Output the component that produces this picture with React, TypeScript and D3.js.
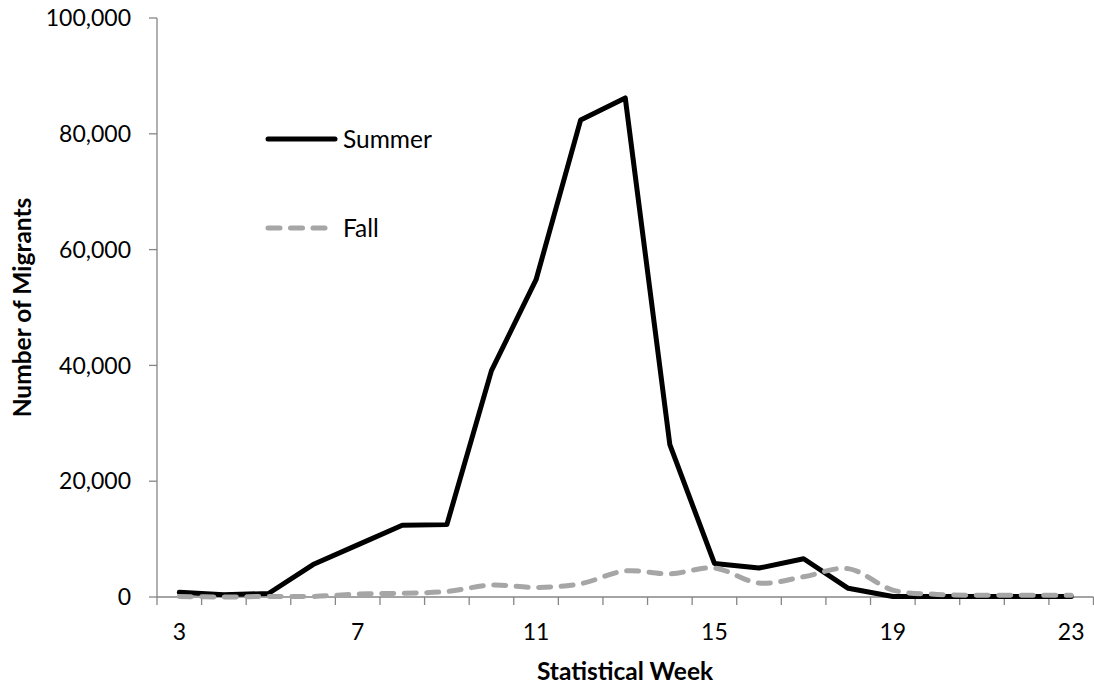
import React from "react";
import * as d3 from "d3";

const weeks: number[] = [3, 4, 5, 6, 7, 8, 9, 10, 11, 12, 13, 14, 15, 16, 17, 18, 19, 20, 21, 22, 23];
const summer: number[] = [800, 400, 600, 5600, 9000, 12400, 12500, 39100, 54800, 82400, 86200, 26300, 5800, 5000, 6600, 1500, 100, 100, 100, 100, 100];
const fall: number[] = [100, 0, 100, 100, 500, 650, 950, 2050, 1650, 2300, 4500, 4000, 5000, 2400, 3500, 4900, 1200, 450, 300, 300, 300];
const yTicks: number[] = [0, 20000, 40000, 60000, 80000, 100000];
const xLabelWeeks: number[] = [3, 7, 11, 15, 19, 23];
const seriesNames: string[] = ["Summer", "Fall"];

const W = 1094;
const H = 688;
const left = 157;
const right = 1093.5;
const top = 18;
const bottom = 597;
const FONT = "Lato, 'Open Sans', sans-serif";
const AXIS = "#868686";
const FALL = "#a6a6a6";

export default function App() {
  const x = d3.scaleBand<number>().domain(weeks).range([left, right]).padding(0);
  const cx = (w: number) => (x(w) as number) + x.bandwidth() / 2;
  const y = d3.scaleLinear().domain([0, 100000]).range([bottom, top]);
  const fmt = d3.format(",");

  const summerLine = d3
    .line<number>()
    .x((_, i) => cx(weeks[i]))
    .y((d) => y(d))
    .curve(d3.curveLinear)(summer) as string;
  const fallLine = d3
    .line<number>()
    .x((_, i) => cx(weeks[i]))
    .y((d) => y(d))
    .curve(d3.curveCatmullRom.alpha(0.5))(fall) as string;

  const boundaries = d3.range(weeks.length + 1).map((i) => left + i * x.step());

  return (
    <svg
      width={W}
      height={H}
      style={{ position: "absolute", left: 0, top: 0, background: "#fff" }}
      fontFamily={FONT}
    >
      {/* y axis */}
      <line x1={left} x2={left} y1={top} y2={bottom} stroke={AXIS} strokeWidth={1.3} />
      {yTicks.map((t) => (
        <g key={t}>
          <line x1={left - 8} x2={left} y1={y(t)} y2={y(t)} stroke={AXIS} strokeWidth={1.3} />
          <text x={131} y={y(t)} dy="0.36em" textAnchor="end" fontSize={23} fill="#000">
            {fmt(t)}
          </text>
        </g>
      ))}
      {/* x axis */}
      <line x1={left} x2={right} y1={bottom} y2={bottom} stroke={AXIS} strokeWidth={1.3} />
      {boundaries.map((b, i) => (
        <line key={i} x1={b} x2={b} y1={bottom} y2={bottom + 8} stroke={AXIS} strokeWidth={1.3} />
      ))}
      {xLabelWeeks.map((w) => (
        <text key={w} x={cx(w)} y={632} dy="0.36em" textAnchor="middle" fontSize={23} fill="#000">
          {w}
        </text>
      ))}
      {/* axis titles */}
      <text x={625} y={671} dy="0.36em" textAnchor="middle" fontSize={24.5} fontWeight="bold" fill="#000">
        Statistical Week
      </text>
      <text
        transform={`translate(22,${(top + bottom) / 2}) rotate(-90)`}
        dy="0.36em"
        textAnchor="middle"
        fontSize={24.5}
        fontWeight="bold"
        fill="#000"
      >
        Number of Migrants
      </text>
      {/* series */}
      <path d={summerLine} fill="none" stroke="#000" strokeWidth={5} strokeLinejoin="round" strokeLinecap="round" />
      <path
        d={fallLine}
        fill="none"
        stroke={FALL}
        strokeWidth={5}
        strokeDasharray="12 10.5"
        strokeLinecap="round"
        strokeLinejoin="round"
      />
      {/* legend */}
      <line x1={268} x2={335} y1={139} y2={139} stroke="#000" strokeWidth={5} strokeLinecap="round" />
      <text x={343} y={139} dy="0.36em" fontSize={24.5} fill="#000">
        {seriesNames[0]}
      </text>
      <line
        x1={268}
        x2={328}
        y1={228}
        y2={228}
        stroke={FALL}
        strokeWidth={5}
        strokeDasharray="12 10.5"
        strokeLinecap="round"
      />
      <text x={343} y={228} dy="0.36em" fontSize={24.5} fill="#000">
        {seriesNames[1]}
      </text>
    </svg>
  );
}
